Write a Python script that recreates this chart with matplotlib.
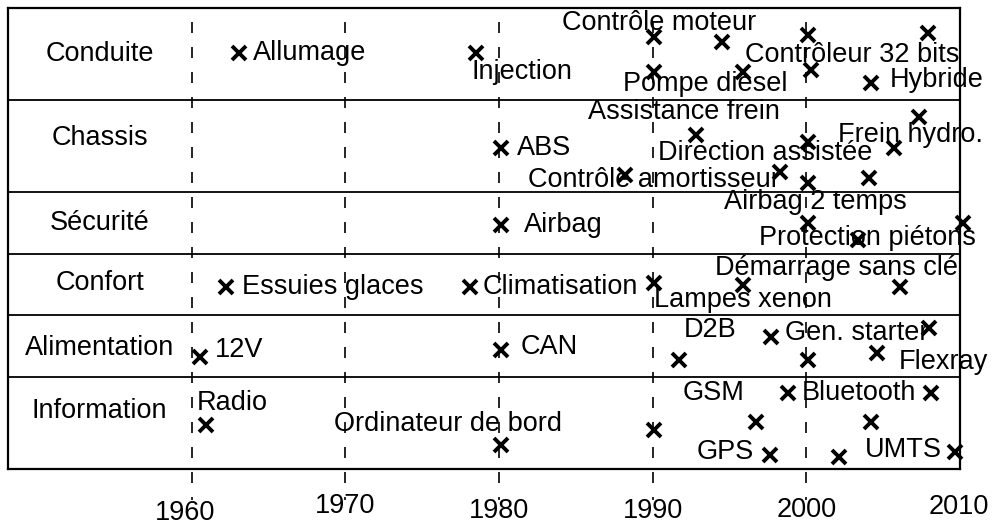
import matplotlib.pyplot as plt

plt.rcParams['font.family'] = ['Liberation Sans', 'DejaVu Sans']

# bands (rows counted from the top)
categories = ['Conduite', 'Chassis', 'Sécurité', 'Confort', 'Alimentation', 'Information']
category_rows = [1.50, 4.23, 7.00, 8.95, 11.06, 13.11]
band_edges = [3, 6, 8, 10, 12]

# crosses: year, row
marker_years = [1963.1, 1978.5, 1990.06, 1990.06, 1994.5, 1995.9, 2000.1, 2000.3, 2007.9, 2004.2,
                1980.1, 1992.8, 1988.2, 1998.3, 2000.1, 2000.1, 2004.1, 2005.7, 2007.3,
                1980.1, 2000.1, 2003.35, 2010.2,
                1962.2, 1978.1, 1990.06, 1995.9, 2006.1,
                1960.55, 1980.1, 1991.7, 1997.7, 2000.1, 2004.6, 2008.0,
                1960.9, 1980.1, 1990.06, 1996.7, 1998.8, 1997.6, 2004.2, 2008.1, 2002.1, 2009.7]
marker_rows = [1.46, 1.46, 0.94, 2.08, 1.11, 2.08, 0.88, 2.02, 0.81, 2.44,
               4.56, 4.13, 5.43, 5.34, 4.36, 5.69, 5.53, 4.56, 3.55,
               7.06, 7.00, 7.55, 7.00,
               9.08, 9.08, 8.95, 9.01, 9.08,
               11.36, 11.13, 11.45, 10.71, 11.45, 11.23, 10.41,
               13.57, 14.22, 13.73, 13.47, 12.53, 14.55, 13.47, 12.53, 14.61, 14.45]

# labels: text, centre year, centre row
labels = ['Allumage', 'Injection', 'Contrôle moteur', 'Pompe diesel', 'Contrôleur 32 bits', 'Hybride',
          'ABS', 'Assistance frein', 'Contrôle amortisseur', 'Direction assistée', 'Frein hydro.',
          'Airbag', 'Airbag 2 temps', 'Protection piétons',
          'Essuies glaces', 'Climatisation', 'Lampes xenon', 'Démarrage sans clé',
          '12V', 'CAN', 'D2B', 'Gen. starter', 'Flexray',
          'Radio', 'Ordinateur de bord', 'GSM', 'Bluetooth', 'GPS', 'UMTS']
label_years = [1967.67, 1981.5, 1990.4, 1993.4, 2003.0, 2008.5,
               1982.9, 1992.05, 1990.06, 1997.3, 2006.8,
               1984.2, 2000.6, 2004.0,
               1969.2, 1984.0, 1995.85, 2001.95,
               1963.1, 1983.25, 1993.7, 2003.25, 2008.9,
               1962.65, 1976.7, 1993.95, 2003.4, 1994.7, 2006.3]
label_rows = [1.46, 2.08, 0.49, 2.47, 1.53, 2.34,
              4.56, 3.38, 5.60, 4.72, 4.13,
              7.06, 6.31, 7.48,
              9.08, 9.08, 9.50, 8.46,
              11.13, 11.03, 10.48, 10.58, 11.52,
              12.85, 13.54, 12.53, 12.53, 14.45, 14.38]

decades = [1960, 1970, 1980, 1990, 2000, 2010]
decade_label_x = [1959.56, 1970, 1980, 1990, 2000, 2009.95]
decade_label_rows = [16.42, 16.21, 16.36, 16.36, 16.35, 16.24]

fig = plt.figure(figsize=(9.92, 5.25), dpi=100)
ax = fig.add_axes([7.5 / 992, 56 / 525, 952.5 / 992, 461 / 525])
ax.set_xlim(1948, 2010)
ax.set_ylim(15, 0)
ax.set_xticks([])
ax.set_yticks([])
for s in ax.spines.values():
    s.set_linewidth(1.6)

for y in band_edges:
    ax.axhline(y, color='black', lw=1.3)

for d in decades[:-1]:
    ax.plot([d, d], [0.46, 16.0], color='black', lw=1.2,
            linestyle=(0, (6.6, 8.4)), clip_on=False)

for name, row in zip(categories, category_rows):
    ax.text(1954, row, name, ha='center', va='center', fontsize=19.5)

ax.plot(marker_years, marker_rows, 'x', color='black', ms=10.5, mew=2.8, clip_on=False)

for name, x, y in zip(labels, label_years, label_rows):
    ax.text(x, y, name, ha='center', va='center', fontsize=19.5, clip_on=False)

for d, x, y in zip(decades, decade_label_x, decade_label_rows):
    ax.text(x, y, str(d), ha='center', va='center', fontsize=19.5, clip_on=False)

fig.savefig('out.png', dpi=100)
